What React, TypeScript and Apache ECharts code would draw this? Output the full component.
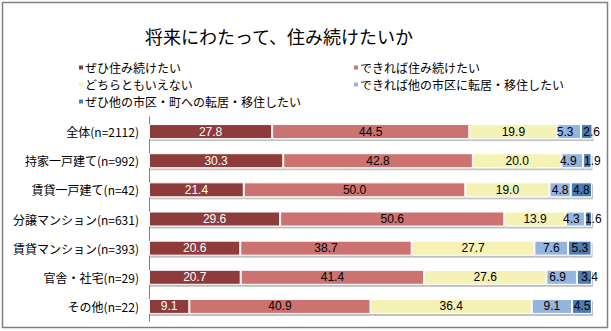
import React, { useEffect, useRef } from "react";
import * as echarts from "echarts";

const title = "将来にわたって、住み続けたいか";
const categories = [
  "全体(n=2112)",
  "持家一戸建て(n=992)",
  "賃貸一戸建て(n=42)",
  "分譲マンション(n=631)",
  "賃貸マンション(n=393)",
  "官舎・社宅(n=29)",
  "その他(n=22)",
];
const seriesNames = [
  "ぜひ住み続けたい",
  "できれば住み続けたい",
  "どちらともいえない",
  "できれば他の市区に転居・移住したい",
  "ぜひ他の市区・町への転居・移住したい",
];
const definitelyStay = [27.8, 30.3, 21.4, 29.6, 20.6, 20.7, 9.1];
const ratherStay = [44.5, 42.8, 50.0, 50.6, 38.7, 41.4, 40.9];
const neither = [19.9, 20.0, 19.0, 13.9, 27.7, 27.6, 36.4];
const ratherMove = [5.3, 4.9, 4.8, 4.3, 7.6, 6.9, 9.1];
const definitelyMove = [2.6, 1.9, 4.8, 1.6, 5.3, 3.4, 4.5];
const seriesValues = [definitelyStay, ratherStay, neither, ratherMove, definitelyMove];
const colors = ["#8E3B3A", "#CC7270", "#F5F2B6", "#95B4DE", "#4E7AB0"];
const labelColors = ["#ffffff", "#000000", "#000000", "#000000", "#000000"];

const FONT = "'Noto Sans CJK JP', 'Noto Sans', sans-serif";
const NUMFONT = "'Liberation Sans', Arial, sans-serif";

export default function App() {
  const ref = useRef<HTMLDivElement>(null);
  useEffect(() => {
    if (!ref.current) return;
    const chart = echarts.init(ref.current, undefined, { renderer: "svg" });
    const legendText = {
      fontFamily: FONT,
      fontSize: 12,
      lineHeight: 13,
      color: "#000",
      padding: [0, 0, 0, -4],
    };
    // Excel nudges labels of tiny end segments outward to reduce overlap
    const labelOffset = (seriesIdx: number, rowIdx: number): number[] => {
      const smallEnd = definitelyMove[rowIdx] < 3.5;
      if (!smallEnd) return [0, 0];
      if (seriesIdx === 4) return [5, 0];
      if (seriesIdx === 3) return [-4, 0];
      return [0, 0];
    };
    chart.setOption({
      animation: false,
      backgroundColor: "#ffffff",
      textStyle: { fontFamily: FONT },
      title: {
        text: title,
        left: 274,
        top: 22,
        textAlign: "center",
        textStyle: { fontFamily: FONT, fontSize: 18, fontWeight: "normal", color: "#000" },
      },
      legend: [
        {
          data: [seriesNames[0], seriesNames[2], seriesNames[4]],
          orient: "vertical",
          left: 72,
          top: 56,
          itemWidth: 6,
          itemHeight: 6,
          itemGap: 4,
          icon: "rect",
          textStyle: legendText,
        },
        {
          data: [seriesNames[1], seriesNames[3]],
          orient: "vertical",
          left: 347,
          top: 56,
          itemWidth: 6,
          itemHeight: 6,
          itemGap: 4,
          icon: "rect",
          textStyle: legendText,
        },
      ],
      graphic: [
        {
          type: "rect",
          shape: { x: 2.5, y: 2.5, width: 605, height: 325 },
          style: { fill: "none", stroke: "#808080", lineWidth: 1.5 },
          silent: true,
        },
      ],
      grid: { left: 149, right: 19, top: 117, bottom: 10 },
      xAxis: {
        type: "value",
        min: 0,
        max: 100,
        show: false,
      },
      yAxis: {
        type: "category",
        data: categories,
        inverse: true,
        axisLine: { show: true, lineStyle: { color: "#808080", width: 1 } },
        axisTick: { show: false },
        axisLabel: { fontFamily: FONT, fontSize: 12, color: "#000", margin: 10 },
      },
      series: seriesValues.map((vals, i) => ({
        name: seriesNames[i],
        type: "bar",
        stack: "total",
        barWidth: 15,
        data: vals.map((v, r) => ({ value: v, label: { offset: labelOffset(i, r) } })),
        itemStyle: {
          color: colors[i],
          borderColor: "#ffffff",
          borderWidth: 1,
          shadowColor: "rgba(0,0,0,0.25)",
          shadowOffsetX: 1,
          shadowOffsetY: 2,
          shadowBlur: 1,
        },
        label: {
          show: true,
          position: "inside",
          fontFamily: NUMFONT,
          fontSize: 12,
          color: labelColors[i],
          formatter: (p: any) => Number(p.value).toFixed(1),
        },
      })),
    });
    return () => chart.dispose();
  }, []);
  return (
    <div
      ref={ref}
      style={{ position: "fixed", left: 0, top: 0, width: 611, height: 331 }}
    />
  );
}
